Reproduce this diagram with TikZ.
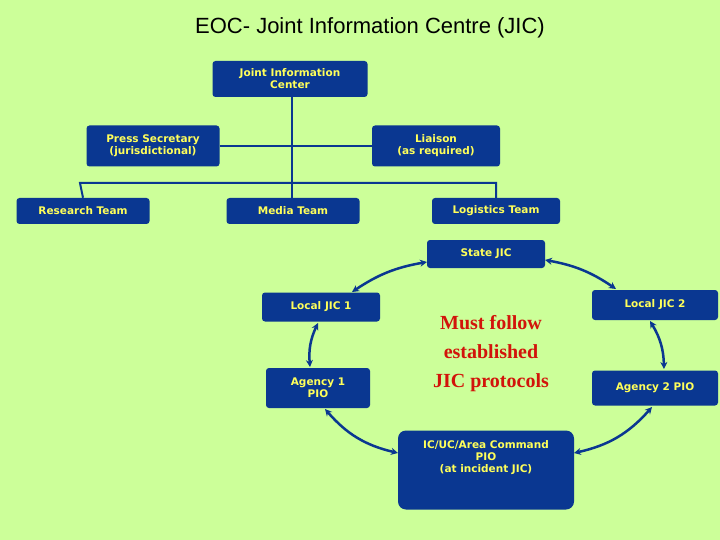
\documentclass[tikz,border=0pt]{standalone}
\usepackage{fontspec}
\setmainfont{Liberation Sans}
\newfontfamily\boxfont{DejaVu Sans}
\newfontfamily\serifb{Liberation Serif}
\usetikzlibrary{arrows.meta}
\definecolor{bg}{RGB}{204,255,153}
\definecolor{navy}{RGB}{10,55,145}
\definecolor{ylw}{RGB}{255,255,90}
\begin{document}
\begin{tikzpicture}[x=1pt,y=-1pt,
  bx/.style={fill=navy,rounded corners=3pt,text=ylw,font=\boxfont\bfseries\fontsize{10.5}{12}\selectfont,align=center,inner sep=0pt},
  ln/.style={navy,line width=2pt},
  arr/.style={navy,line width=2.5pt,{Stealth[length=7pt,width=7pt]}-{Stealth[length=7pt,width=7pt]}}]
\fill[bg] (0,0) rectangle (720,540);
\node[font=\fontsize{22}{26}\selectfont] (title) at (370,28) {EOC- Joint Information Centre (JIC)};
\node[bx,minimum width=155pt,minimum height=36pt] (jic) at (290,79) {Joint Information\\Center};
\node[bx,minimum width=133pt,minimum height=41pt] (press) at (153,146) {Press Secretary\\(jurisdictional)};
\node[bx,minimum width=128pt,minimum height=41pt] (liaison) at (436,146) {Liaison\\(as required)};
\node[bx,minimum width=133pt,minimum height=26pt] (research) at (83,211) {Research Team};
\node[bx,minimum width=133pt,minimum height=26pt] (media) at (293,211) {Media Team};
\node[bx,minimum width=128pt,minimum height=26pt] (logistics) at (496,211) {Logistics Team};
\coordinate (h1) at (80,183);
\coordinate (h2) at (496,183);
\begin{scope}[on background layer/.style={}]
\draw[ln] (292,97) -- (292,198);
\draw[ln] (press.east) -- (liaison.west);
\draw[ln] (research.north) -- (h1) -- (h2) -- (logistics.north);
\end{scope}
\node[bx,minimum width=118pt,minimum height=28pt] (state) at (486,254) {State JIC};
\node[bx,minimum width=118pt,minimum height=29pt] (l1) at (321,307) {Local JIC 1};
\node[bx,minimum width=104pt,minimum height=40pt] (a1) at (318,388) {Agency 1\\PIO};
\node[bx,minimum width=126pt,minimum height=30pt] (l2) at (655,305) {Local JIC 2};
\node[bx,minimum width=126pt,minimum height=35pt] (a2) at (655,388) {Agency 2 PIO};
\node[bx,minimum width=176pt,minimum height=79pt,rounded corners=8pt] (ic) at (486,470) {IC/UC/Area Command\\PIO\\(at incident JIC)\\[14pt]};
\node[text={rgb,255:red,210;green,20;blue,10},font=\serifb\bfseries\fontsize{20}{29}\selectfont,align=center] (must) at (491,354) {Must follow\\established\\JIC protocols};
\draw[arr] (427,262) to[bend right=12] (352,292);
\draw[arr] (318,323) to[bend right=15] (310,367);
\draw[arr] (325,409) to[bend right=18] (398,453);
\draw[arr] (574,453) to[bend right=18] (652,407);
\draw[arr] (664,369) to[bend right=15] (650,321);
\draw[arr] (616,289) to[bend right=12] (545,260);
\end{tikzpicture}
\end{document}
